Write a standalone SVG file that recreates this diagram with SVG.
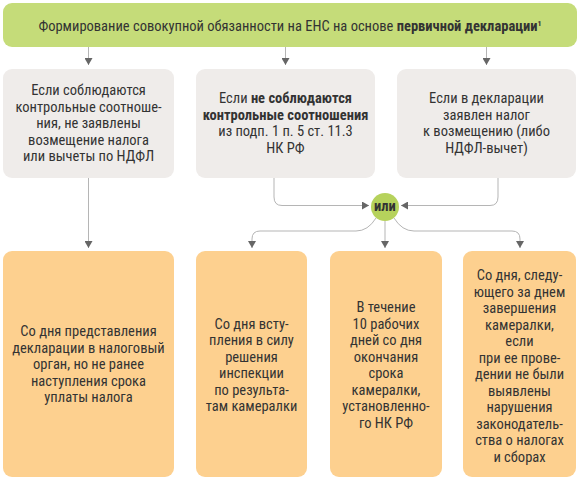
<svg xmlns="http://www.w3.org/2000/svg" width="580" height="481" viewBox="0 0 580 481">
<style>
text{font-family:"Liberation Sans Narrow","Roboto Condensed","Liberation Sans",sans-serif;font-size:14.5px;fill:#333;text-anchor:middle}
.b{font-weight:bold}
.top{fill:#c5dc79}
.mid{fill:#efecea}
.bot{fill:#fdd08f}
.ln{fill:none;stroke:#b5b5b5;stroke-width:1}
</style>
<defs>
<marker id="ah" markerWidth="7" markerHeight="8" refX="7" refY="4" orient="auto" markerUnits="userSpaceOnUse">
<path d="M0,0 L7,4 L0,8 Z" fill="#666"/>
</marker>
</defs>
<rect width="580" height="481" fill="#fff"/>
<g id="title">
<rect class="top" x="3" y="3" width="574" height="44" rx="9"/>
<text x="290" y="30.5" font-size="14">Формирование совокупной обязанности на ЕНС на основе <tspan class="b">первичной декларации</tspan><tspan class="b" font-size="8" dy="-5">1</tspan></text>
</g>
<g id="cond1">
<rect class="mid" x="3" y="69" width="171" height="109" rx="9"/>
<text x="88.5" y="95">Если соблюдаются</text>
<text x="88.5" y="111.5">контрольные соотноше-</text>
<text x="88.5" y="128">ния, не заявлены</text>
<text x="88.5" y="144.5">возмещение налога</text>
<text x="88.5" y="161">или вычеты по НДФЛ</text>
</g>
<g id="cond2">
<rect class="mid" x="196" y="69" width="179" height="109" rx="9"/>
<text x="285.5" y="103.25">Если <tspan class="b">не соблюдаются</tspan></text>
<text x="285.5" y="119.75" class="b">контрольные соотношения</text>
<text x="285.5" y="136.25">из подп. 1 п. 5 ст. 11.3</text>
<text x="285.5" y="152.75">НК РФ</text>
</g>
<g id="cond3">
<rect class="mid" x="397" y="69" width="179" height="109" rx="9"/>
<text x="486.5" y="103.25">Если в декларации</text>
<text x="486.5" y="119.75">заявлен налог</text>
<text x="486.5" y="136.25">к возмещению (либо</text>
<text x="486.5" y="152.75">НДФЛ-вычет)</text>
</g>
<g id="or">
<circle cx="385" cy="207" r="14" fill="#b6d25c"/>
<text x="385" y="210.5" class="b" font-size="10">или</text>
</g>
<g id="res1">
<rect class="bot" x="3" y="251" width="171" height="226" rx="9"/>
<text x="88.5" y="336">Со дня представления</text>
<text x="88.5" y="352.5">декларации в налоговый</text>
<text x="88.5" y="369">орган, но не ранее</text>
<text x="88.5" y="385.5">наступления срока</text>
<text x="88.5" y="402">уплаты налога</text>
</g>
<g id="res2">
<rect class="bot" x="196" y="251" width="111" height="226" rx="9"/>
<text x="251.5" y="328.75">Со дня всту-</text>
<text x="251.5" y="345.25">пления в силу</text>
<text x="251.5" y="361.75">решения</text>
<text x="251.5" y="378.25">инспекции</text>
<text x="251.5" y="394.75">по результа-</text>
<text x="251.5" y="411.25">там камералки</text>
</g>
<g id="res3">
<rect class="bot" x="330" y="251" width="112" height="226" rx="9"/>
<text x="386" y="312.25">В течение</text>
<text x="386" y="328.75">10 рабочих</text>
<text x="386" y="345.25">дней со дня</text>
<text x="386" y="361.75">окончания</text>
<text x="386" y="378.25">срока</text>
<text x="386" y="394.75">камералки,</text>
<text x="386" y="411.25">установленно-</text>
<text x="386" y="427.75">го НК РФ</text>
</g>
<g id="res4">
<rect class="bot" x="463" y="251" width="113" height="226" rx="9"/>
<text x="519.5" y="280">Со дня, следу-</text>
<text x="519.5" y="296.5">ющего за днем</text>
<text x="519.5" y="313">завершения</text>
<text x="519.5" y="329.5">камералки,</text>
<text x="519.5" y="346">если</text>
<text x="519.5" y="362.5">при ее прове-</text>
<text x="519.5" y="379">дении не были</text>
<text x="519.5" y="395.5">выявлены</text>
<text x="519.5" y="412">нарушения</text>
<text x="519.5" y="428.5">законодатель-</text>
<text x="519.5" y="445">ства о налогах</text>
<text x="519.5" y="461.5">и сборах</text>
</g>
<g id="connectors">
<path class="ln" d="M88.5,47 V65" marker-end="url(#ah)"/>
<path class="ln" d="M285.5,47 V65" marker-end="url(#ah)"/>
<path class="ln" d="M486.5,47 V65" marker-end="url(#ah)"/>
<path class="ln" d="M88.5,178 V248" marker-end="url(#ah)"/>
<path class="ln" d="M274,178 V197 Q274,205.5 282,205.5 H369" marker-end="url(#ah)"/>
<path class="ln" d="M498,178 V197 Q498,205.5 490,205.5 H401" marker-end="url(#ah)"/>
<path class="ln" d="M376,218 Q368,231 356,231 H260 Q252,231 252,239 V248" marker-end="url(#ah)"/>
<path class="ln" d="M385,221 V248" marker-end="url(#ah)"/>
<path class="ln" d="M394,218 Q402,231 414,231 H512 Q520,231 520,239 V248" marker-end="url(#ah)"/>
</g>
</svg>
